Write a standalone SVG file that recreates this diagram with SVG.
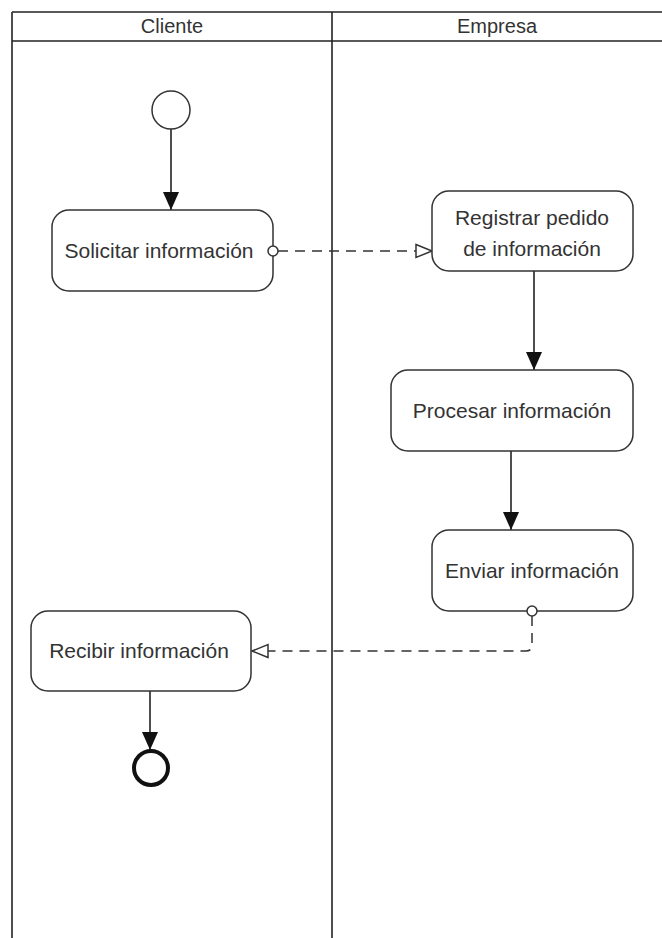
<svg xmlns="http://www.w3.org/2000/svg" width="662" height="938" viewBox="0 0 662 938">
<defs>
<style>
.lane{stroke:#222;stroke-width:1.6;fill:none}
.node{fill:#fff;stroke:#333;stroke-width:1.5}
.txt{font-family:"Liberation Sans",Arial,sans-serif;font-size:21px;fill:#333;text-anchor:middle}
.hdr{font-family:"Liberation Sans",Arial,sans-serif;font-size:20px;fill:#333;text-anchor:middle}
.flow{stroke:#222;stroke-width:1.6;fill:none}
.obj{stroke:#333;stroke-width:1.5;fill:none;stroke-dasharray:10,7}
.pin{fill:#fff;stroke:#333;stroke-width:1.5}
</style>
<marker id="arr" viewBox="0 0 18 16" refX="18" refY="8" markerWidth="18" markerHeight="16" markerUnits="userSpaceOnUse" orient="auto">
<path d="M0,0 L18,8 L0,16 Z" fill="#111"/>
</marker>
<marker id="open" viewBox="0 0 20 16" refX="18" refY="8" markerWidth="20" markerHeight="16" markerUnits="userSpaceOnUse" orient="auto">
<path d="M2,1.5 L18,8 L2,14.5 Z" fill="#fff" stroke="#333" stroke-width="1.5"/>
</marker>
</defs>
<rect width="662" height="938" fill="#fff"/>
<g id="lanes">
<line class="lane" x1="12" y1="12" x2="662" y2="12"/>
<line class="lane" x1="12" y1="41" x2="662" y2="41"/>
<line class="lane" x1="12" y1="12" x2="12" y2="938"/>
<line class="lane" x1="332" y1="12" x2="332" y2="938"/>
<text class="hdr" x="172" y="33">Cliente</text>
<text class="hdr" x="497" y="33">Empresa</text>
</g>
<g id="connectors">
<line class="flow" x1="171" y1="129" x2="171" y2="210" marker-end="url(#arr)"/>
<line class="obj" x1="278" y1="251" x2="432" y2="251" marker-end="url(#open)"/>
<line class="flow" x1="534" y1="271" x2="534" y2="370" marker-end="url(#arr)"/>
<line class="flow" x1="511" y1="451" x2="511" y2="530" marker-end="url(#arr)"/>
<path class="obj" d="M532,616 L532,645 Q532,651 526,651 L252,651" marker-end="url(#open)"/>
<line class="flow" x1="150" y1="691" x2="150" y2="750" marker-end="url(#arr)"/>
</g>
<g id="start">
<circle cx="171" cy="110" r="19" fill="#fff" stroke="#333" stroke-width="1.5"/>
</g>
<g id="solicitar">
<rect class="node" x="52" y="210" width="221" height="81" rx="17"/>
<text class="txt" x="159" y="258">Solicitar información</text>
<circle class="pin" cx="273" cy="251" r="5"/>
</g>
<g id="registrar">
<rect class="node" x="432" y="191" width="201" height="80" rx="17"/>
<text class="txt" x="532" y="225">Registrar pedido</text>
<text class="txt" x="532" y="256">de información</text>
</g>
<g id="procesar">
<rect class="node" x="391" y="370" width="242" height="81" rx="17"/>
<text class="txt" x="512" y="418">Procesar información</text>
</g>
<g id="enviar">
<rect class="node" x="432" y="530" width="201" height="81" rx="17"/>
<text class="txt" x="532" y="578">Enviar información</text>
<circle class="pin" cx="532" cy="611" r="5"/>
</g>
<g id="recibir">
<rect class="node" x="31" y="611" width="220" height="80" rx="17"/>
<text class="txt" x="139" y="658">Recibir información</text>
</g>
<g id="end">
<circle cx="151" cy="768" r="17" fill="#fff" stroke="#111" stroke-width="4"/>
</g>
</svg>
